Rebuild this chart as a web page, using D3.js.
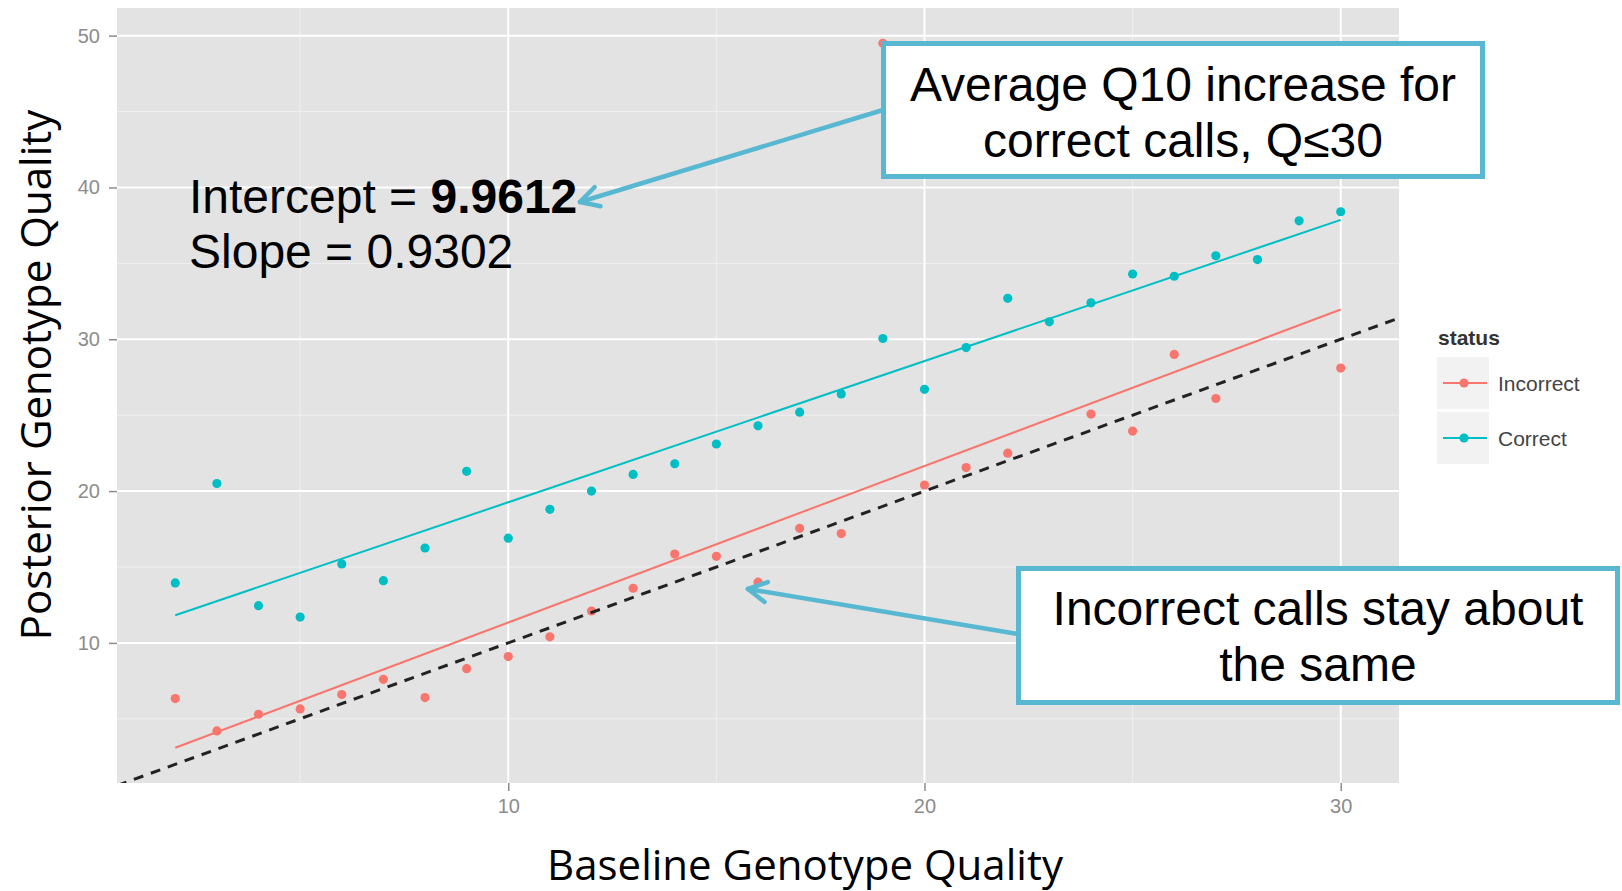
<!DOCTYPE html>
<html>
<head>
<meta charset="utf-8">
<script src="https://cdn.jsdelivr.net/npm/d3@7"></script>
<style>
  body { margin: 0; background: #fff; }
  svg { display: block; }
</style>
</head>
<body>
<script>
// baseline quality on x, posterior quality on y
var correctX = [2, 3, 4, 5, 6, 7, 8, 9, 10, 11, 12, 13, 14, 15, 16, 17, 18, 19, 20, 21, 22, 23, 24, 25, 26, 27, 28, 29, 30];
var correctY = [13.95, 20.5, 12.45, 11.7, 15.2, 14.1, 16.25, 21.3, 16.9, 18.8, 20.0, 21.1, 21.8, 23.1, 24.3, 25.2, 26.4, 30.05, 26.7, 29.45, 32.7, 31.15, 32.4, 34.3, 34.15, 35.5, 35.25, 37.8, 38.4];

var incorrectX = [2, 3, 4, 5, 6, 7, 8, 9, 10, 11, 12, 13, 14, 15, 16, 17, 18, 19, 20, 21, 22, 24, 25, 26, 27, 30];
var incorrectY = [6.33, 4.2, 5.3, 5.65, 6.6, 7.6, 6.4, 8.3, 9.1, 10.4, 12.1, 13.6, 15.85, 15.7, 14.0, 17.55, 17.2, 49.5, 20.4, 21.55, 22.5, 25.07, 23.95, 29.0, 26.1, 28.1];

// linear fits [intercept, slope]
var correctFit = [9.9612, 0.9302];
var incorrectFit = [1.03, 1.031];

var xTicks = [10, 20, 30];
var yTicks = [10, 20, 30, 40, 50];
var xMinor = [5, 15, 25];
var yMinor = [5, 15, 25, 35, 45];

var statusNames = ["Incorrect", "Correct"];
var statusColors = ["#F8766D", "#00BFC4"];

var W = 1622, H = 891;
var panel = { l: 117, r: 1399, t: 8, b: 783 };
var calloutColor = "#58B7D1";

var svg = d3.select("body").append("svg")
  .attr("width", W)
  .attr("height", H);

// ggplot style 5% expansion
var xExt = d3.extent(correctX.concat(incorrectX));
var xPad = (xExt[1] - xExt[0]) * 0.05;
var fitEnds = [correctFit, incorrectFit].map(function(f) {
  return [f[0] + f[1] * xExt[0], f[0] + f[1] * xExt[1]];
});
var yAll = correctY.concat(incorrectY, fitEnds[0], fitEnds[1]);
var yExt = d3.extent(yAll);
var yPad = (yExt[1] - yExt[0]) * 0.05;

var x = d3.scaleLinear().domain([xExt[0] - xPad, xExt[1] + xPad]).range([panel.l, panel.r]);
var y = d3.scaleLinear().domain([yExt[0] - yPad, yExt[1] + yPad]).range([panel.b, panel.t]);

svg.append("defs").append("clipPath").attr("id", "panelclip")
  .append("rect")
  .attr("x", panel.l).attr("y", panel.t)
  .attr("width", panel.r - panel.l).attr("height", panel.b - panel.t);

svg.append("rect")
  .attr("x", panel.l).attr("y", panel.t)
  .attr("width", panel.r - panel.l).attr("height", panel.b - panel.t)
  .attr("fill", "#E3E3E3");

var grid = svg.append("g");
grid.selectAll(".xminor").data(xMinor).enter().append("line")
  .attr("x1", function(d) { return x(d); }).attr("x2", function(d) { return x(d); })
  .attr("y1", panel.t).attr("y2", panel.b)
  .attr("stroke", "#F0F0F0").attr("stroke-width", 1);
grid.selectAll(".yminor").data(yMinor).enter().append("line")
  .attr("y1", function(d) { return y(d); }).attr("y2", function(d) { return y(d); })
  .attr("x1", panel.l).attr("x2", panel.r)
  .attr("stroke", "#F0F0F0").attr("stroke-width", 1);
grid.selectAll(".xmajor").data(xTicks).enter().append("line")
  .attr("x1", function(d) { return x(d); }).attr("x2", function(d) { return x(d); })
  .attr("y1", panel.t).attr("y2", panel.b)
  .attr("stroke", "#FFFFFF").attr("stroke-width", 2);
grid.selectAll(".ymajor").data(yTicks).enter().append("line")
  .attr("y1", function(d) { return y(d); }).attr("y2", function(d) { return y(d); })
  .attr("x1", panel.l).attr("x2", panel.r)
  .attr("stroke", "#FFFFFF").attr("stroke-width", 2);

// axes
var xAxis = svg.append("g")
  .attr("transform", "translate(0," + panel.b + ")")
  .call(d3.axisBottom(x).tickValues(xTicks).tickSize(8).tickPadding(8));
var yAxis = svg.append("g")
  .attr("transform", "translate(" + panel.l + ",0)")
  .call(d3.axisLeft(y).tickValues(yTicks).tickSize(8).tickPadding(9));
[xAxis, yAxis].forEach(function(a) {
  a.select(".domain").remove();
  a.selectAll(".tick line").attr("stroke", "#8C8C8C").attr("stroke-width", 1.5);
  a.selectAll(".tick text")
    .attr("fill", "#8C8C8C")
    .style("font-family", "'Liberation Sans', Arial, sans-serif")
    .style("font-size", "20px");
});

var plot = svg.append("g").attr("clip-path", "url(#panelclip)");

var groups = [
  { xs: incorrectX, ys: incorrectY, fit: incorrectFit, color: statusColors[0] },
  { xs: correctX, ys: correctY, fit: correctFit, color: statusColors[1] }
];

groups.forEach(function(g) {
  plot.append("g").selectAll("circle")
    .data(g.xs)
    .enter()
    .append("circle")
    .attr("cx", function(d) { return x(d); })
    .attr("cy", function(d, i) { return y(g.ys[i]); })
    .attr("r", 4.6)
    .attr("fill", g.color);
});

groups.forEach(function(g) {
  var x0 = d3.min(g.xs), x1 = d3.max(g.xs);
  plot.append("line")
    .attr("x1", x(x0)).attr("y1", y(g.fit[0] + g.fit[1] * x0))
    .attr("x2", x(x1)).attr("y2", y(g.fit[0] + g.fit[1] * x1))
    .attr("stroke", g.color)
    .attr("stroke-width", 2);
});

// y = x reference
var xd = x.domain();
plot.append("line")
  .attr("x1", x(xd[0])).attr("y1", y(xd[0]))
  .attr("x2", x(xd[1])).attr("y2", y(xd[1]))
  .attr("stroke", "#222")
  .attr("stroke-width", 3)
  .attr("stroke-dasharray", "10,8");

// axis titles
svg.append("text")
  .attr("x", 805).attr("y", 880)
  .attr("text-anchor", "middle")
  .style("font-family", "'Open Sans', sans-serif")
  .style("font-size", "42px")
  .text("Baseline Genotype Quality");

svg.append("text")
  .attr("transform", "translate(51,375) rotate(-90)")
  .attr("text-anchor", "middle")
  .style("font-family", "'Open Sans', sans-serif")
  .style("font-size", "42px")
  .text("Posterior Genotype Quality");

// legend
var leg = svg.append("g").attr("transform", "translate(1437,0)");
leg.append("text")
  .attr("x", 1).attr("y", 345)
  .style("font-family", "'Liberation Sans', Arial, sans-serif")
  .style("font-size", "21px")
  .style("font-weight", "bold")
  .attr("fill", "#333")
  .text("status");

var keys = leg.selectAll(".key")
  .data(statusNames)
  .enter()
  .append("g")
  .attr("transform", function(d, i) { return "translate(0," + (357 + i * 55) + ")"; });
keys.append("rect")
  .attr("width", 52).attr("height", 52)
  .attr("fill", "#F2F2F2");
keys.append("line")
  .attr("x1", 6).attr("x2", 50).attr("y1", 26).attr("y2", 26)
  .attr("stroke", function(d, i) { return statusColors[i]; })
  .attr("stroke-width", 2);
keys.append("circle")
  .attr("cx", 27).attr("cy", 26).attr("r", 4.6)
  .attr("fill", function(d, i) { return statusColors[i]; });
keys.append("text")
  .attr("x", 61).attr("y", 34)
  .style("font-family", "'Liberation Sans', Arial, sans-serif")
  .style("font-size", "21px")
  .attr("fill", "#444")
  .text(function(d) { return d; });

// callouts
function arrow(x1, y1, x2, y2) {
  var g = svg.append("g")
    .attr("stroke", calloutColor)
    .attr("stroke-width", 4.5)
    .attr("stroke-linecap", "round")
    .attr("fill", "none");
  g.append("line").attr("x1", x1).attr("y1", y1).attr("x2", x2).attr("y2", y2);
  var ang = Math.atan2(y1 - y2, x1 - x2);
  var len = 21, spread = 0.5;
  [-spread, spread].forEach(function(s) {
    g.append("line")
      .attr("x1", x2).attr("y1", y2)
      .attr("x2", x2 + len * Math.cos(ang + s))
      .attr("y2", y2 + len * Math.sin(ang + s));
  });
}

function callout(x0, y0, w, h, lines, baselines) {
  svg.append("rect")
    .attr("x", x0 + 2.5).attr("y", y0 + 2.5)
    .attr("width", w - 5).attr("height", h - 5)
    .attr("fill", "#fff")
    .attr("stroke", calloutColor)
    .attr("stroke-width", 5);
  lines.forEach(function(t, i) {
    svg.append("text")
      .attr("x", x0 + w / 2).attr("y", baselines[i])
      .attr("text-anchor", "middle")
      .style("font-family", "'Liberation Sans', Arial, sans-serif")
      .style("font-size", "48px")
      .text(t);
  });
}

arrow(883, 110, 580, 202);
arrow(1018, 634, 748, 589);

callout(881, 41, 604, 138, ["Average Q10 increase for", "correct calls, Q\u226430"], [101, 157]);
callout(1016, 566, 604, 139, ["Incorrect calls stay about", "the same"], [625, 681]);

var fitText = svg.append("g")
  .style("font-family", "'Liberation Sans', Arial, sans-serif")
  .style("font-size", "48px");
var l1 = fitText.append("text").attr("x", 189).attr("y", 213);
l1.append("tspan").text("Intercept = ");
l1.append("tspan").style("font-weight", "bold").text(correctFit[0].toFixed(4));
fitText.append("text").attr("x", 189).attr("y", 268)
  .text("Slope = " + correctFit[1].toFixed(4));
</script>
</body>
</html>
